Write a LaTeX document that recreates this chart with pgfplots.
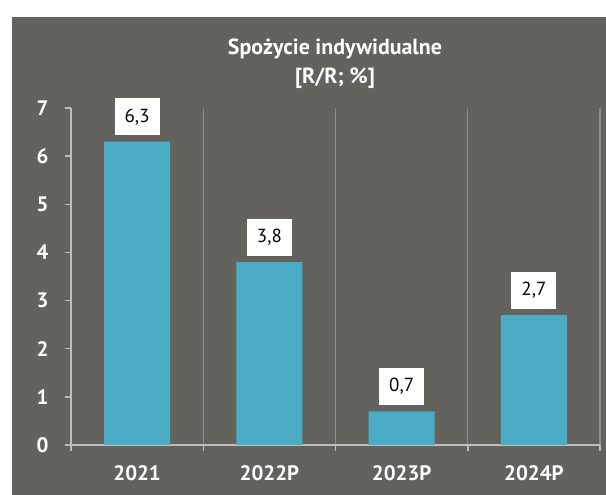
\documentclass[border=0pt]{standalone}
\usepackage{pgfplots}
\pgfplotsset{compat=1.18}
\usepackage{fontspec}
\setmainfont{PT Sans}
\definecolor{panel}{RGB}{99,98,93}
\definecolor{barc}{RGB}{75,172,198}
\definecolor{axisc}{RGB}{190,190,190}
\definecolor{gridc}{RGB}{140,140,140}
\begin{document}
\begin{tikzpicture}[x=1bp,y=1bp]
\path[use as bounding box, fill=white] (0,0) rectangle (606,495);
\fill[panel] (12,0) rectangle (606,478);
\node[text=white, font=\fontsize{22}{29}\selectfont\bfseries, align=center] at (335,431) {Spożycie indywidualne\\{}[R/R; \%]};
\begin{axis}[
  at={(71bp,50bp)}, anchor=south west,
  scale only axis, width=529bp, height=337bp,
  xmin=-0.5, xmax=3.5, ymin=0, ymax=7,
  clip=false,
  axis lines=left,
  axis line style={axisc, line width=1.5bp, -},
  xtick={0,1,2,3},
  xticklabels={2021,2022P,2023P,2024P},
  minor xtick={-0.5,0.5,1.5,2.5,3.5},
  xminorgrids,
  minor grid style={gridc, line width=1.2bp},
  major x tick style={draw=none},
  minor x tick style={axisc, line width=1.5bp},
  ytick={0,1,...,7},
  y tick style={axisc, line width=1.5bp},
  tick align=outside,
  major tick length=6bp, minor tick length=6bp,
  ticklabel style={text=white, font=\fontsize{21}{24}\selectfont\bfseries},
  /pgf/number format/assume math mode=true,
  xticklabel style={yshift=-11bp},
  yticklabel style={xshift=-13bp},
  ybar, bar width=66bp,
  point meta=y,
  nodes near coords={\pgfmathprintnumber[fixed,fixed zerofill,precision=1,use comma]{\pgfplotspointmeta}},
  nodes near coords style={fill=white, text=black, font=\fontsize{19}{22}\selectfont, minimum width=45bp, minimum height=37bp, inner sep=0pt, anchor=south, yshift=6bp},
]
\addplot[fill=barc, draw=none] coordinates {(0,6.3) (1,3.8) (2,0.7) (3,2.7)};
\end{axis}
\end{tikzpicture}
\end{document}
